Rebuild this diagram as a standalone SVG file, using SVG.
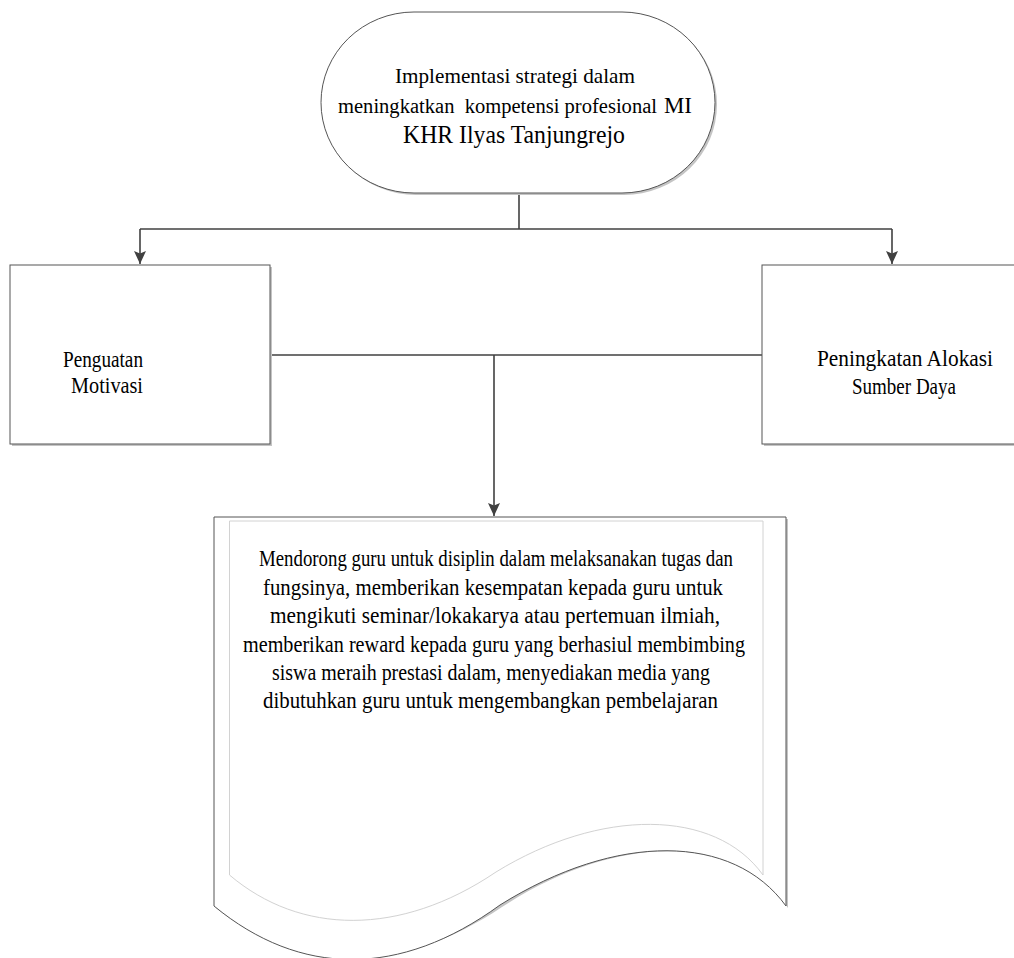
<svg xmlns="http://www.w3.org/2000/svg" width="1014" height="958" viewBox="0 0 1014 958">
<style>
.shape{fill:#ffffff;stroke:#555555;stroke-width:1}
.shadow{fill:#c4c4c4;stroke:none}
.inner{fill:none;stroke:#d2d2d2;stroke-width:1}
.conn{fill:none;stroke:#404040;stroke-width:1.6}
.t{font-family:"Liberation Serif","Times New Roman",serif;fill:#000000;text-anchor:start}
</style>
<defs>
<marker id="arr" markerUnits="userSpaceOnUse" markerWidth="14" markerHeight="14" viewBox="0 0 14 14" refX="13" refY="7" orient="auto">
<path d="M0,1 L13,7 L0,13 L2.5,7 Z" fill="#404040"/>
</marker>
</defs>
<rect width="1014" height="958" fill="#ffffff"/>

<g id="connectors">
<path class="conn" d="M519,193 V229"/>
<path class="conn" d="M140,229 H892"/>
<path class="conn" d="M140,229 V264" marker-end="url(#arr)"/>
<path class="conn" d="M892,229 V264" marker-end="url(#arr)"/>
<path class="conn" d="M270,355 H762"/>
<path class="conn" d="M494,355 V516" marker-end="url(#arr)"/>
</g>

<g id="node-top">
<rect class="shadow" x="323" y="14" width="394" height="181" rx="93" ry="90.5"/>
<rect class="shape" x="321" y="12" width="394" height="181" rx="93" ry="90.5"/>
<text class="t" font-size="22" x="395" y="83" textLength="240" lengthAdjust="spacingAndGlyphs">Implementasi strategi dalam</text>
<text class="t" font-size="20.5" x="338" y="113" textLength="319" lengthAdjust="spacingAndGlyphs" xml:space="preserve">meningkatkan  kompetensi profesional</text>
<text class="t" font-size="24" x="664" y="113" textLength="28" lengthAdjust="spacingAndGlyphs">MI</text>
<text class="t" font-size="25" x="403" y="143" textLength="222" lengthAdjust="spacingAndGlyphs">KHR Ilyas Tanjungrejo</text>
</g>

<g id="node-left">
<rect class="shadow" x="12" y="267" width="260" height="179"/>
<rect class="shape" x="10" y="265" width="260" height="179"/>
<text class="t" font-size="23" x="63" y="367" textLength="80" lengthAdjust="spacingAndGlyphs">Penguatan</text>
<text class="t" font-size="23" x="71" y="393" textLength="72" lengthAdjust="spacingAndGlyphs">Motivasi</text>
</g>

<g id="node-right">
<rect class="shadow" x="764" y="267" width="260" height="179"/>
<rect class="shape" x="762" y="265" width="260" height="179"/>
<text class="t" font-size="23" x="817" y="366" textLength="176" lengthAdjust="spacingAndGlyphs">Peningkatan Alokasi</text>
<text class="t" font-size="23" x="852" y="394" textLength="104" lengthAdjust="spacingAndGlyphs">Sumber Daya</text>
</g>

<g id="node-document">
<path class="shadow" d="M216,519 H788 V908 C740,835 620,830 502,907 C400,975 300,975 216,908 Z"/>
<path class="shape" d="M214,517 H786 V906 C733,833 617,832 500,905 C400,978 300,977 214,906 Z"/>
<path class="inner" d="M229.5,521 H763 V875 C715,808 600,808 496,872 C400,937 300,935 229.5,875 Z"/>
<text class="t" font-size="23" x="259" y="566" textLength="474" lengthAdjust="spacingAndGlyphs">Mendorong guru untuk disiplin dalam melaksanakan tugas dan</text>
<text class="t" font-size="23" x="263" y="595" textLength="460" lengthAdjust="spacingAndGlyphs">fungsinya, memberikan kesempatan kepada guru untuk</text>
<text class="t" font-size="23" x="270" y="623" textLength="450" lengthAdjust="spacingAndGlyphs">mengikuti seminar/lokakarya atau pertemuan ilmiah,</text>
<text class="t" font-size="23" x="243" y="652" textLength="502" lengthAdjust="spacingAndGlyphs">memberikan reward kepada guru yang berhasiul membimbing</text>
<text class="t" font-size="23" x="272" y="680" textLength="438" lengthAdjust="spacingAndGlyphs">siswa meraih prestasi dalam, menyediakan media yang</text>
<text class="t" font-size="23" x="263" y="708" textLength="455" lengthAdjust="spacingAndGlyphs">dibutuhkan guru untuk mengembangkan pembelajaran</text>
</g>
</svg>
